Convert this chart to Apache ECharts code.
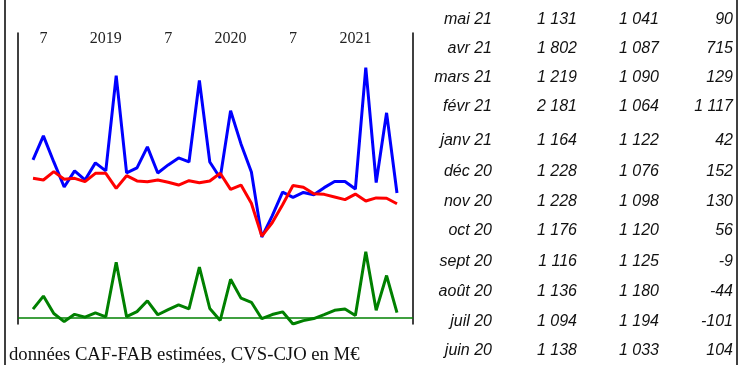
<!DOCTYPE html>
<html>
<head>
<meta charset="utf-8">
<script src="https://cdn.jsdelivr.net/npm/echarts@6/dist/echarts.min.js"></script>
<style>
  html, body { margin: 0; padding: 0; background: #fff; }
  #chart { width: 741px; height: 365px; }
</style>
</head>
<body>
<div id="chart"></div>
<script>
// Monthly series, June 2018 to May 2021 (M€, CVS-CJO)
const months = [
  '2018-06','2018-07','2018-08','2018-09','2018-10','2018-11','2018-12',
  '2019-01','2019-02','2019-03','2019-04','2019-05','2019-06','2019-07','2019-08','2019-09','2019-10','2019-11','2019-12',
  '2020-01','2020-02','2020-03','2020-04','2020-05','2020-06','2020-07','2020-08','2020-09','2020-10','2020-11','2020-12',
  '2021-01','2021-02','2021-03','2021-04','2021-05'
];
const exportsM = [
  1408, 1609, 1391, 1181, 1316, 1240, 1383,
  1316, 2113, 1299, 1341, 1517, 1299, 1366, 1425, 1391, 2073, 1391, 1257,
  1819, 1542, 1307, 762, 940, 1138, 1094, 1136, 1116, 1176, 1228, 1228,
  1164, 2181, 1219, 1802, 1131
];
const importsM = [
  1254, 1240, 1310, 1246, 1254, 1226, 1296,
  1296, 1170, 1276, 1232, 1226, 1240, 1221, 1198, 1234, 1217, 1232, 1296,
  1162, 1198, 1045, 770, 882, 1033, 1194, 1180, 1125, 1120, 1098, 1076,
  1122, 1064, 1090, 1087, 1041
];
const balanceM = [
  150, 369, 75, -60, 62, 14, 85,
  20, 940, 22, 108, 290, 55, 140, 222, 152, 855, 160, -42,
  652, 335, 265, -12, 58, 104, -101, -44, -9, 56, 130, 152,
  42, 1117, 129, 715, 90
];

// Axis tick labels along the top
const tickMonths = ['2018-07', '2019-01', '2019-07', '2020-01', '2020-07', '2021-01'];
const tickLabels = ['7', '2019', '7', '2020', '7', '2021'];

// French month abbreviations for the table
const monthNames = ['janv', 'févr', 'mars', 'avr', 'mai', 'juin', 'juil', 'août', 'sept', 'oct', 'nov', 'déc'];
const tableMonths = 12;

const footnote = 'données CAF-FAB estimées, CVS-CJO en M€';

// ---- helpers ----
function fmt(v) {
  const s = String(Math.abs(v)).replace(/\B(?=(\d{3})+(?!\d))/g, ' ');
  return (v < 0 ? '-' : '') + s;
}
function monthLabel(m) {
  const [y, mm] = m.split('-');
  return monthNames[parseInt(mm, 10) - 1] + ' ' + y.slice(2);
}
const pairs = arr => arr.map((v, i) => [i, v]);
const tickIdx = tickMonths.map(m => months.indexOf(m));

// ---- table on the right (latest month on top) ----
const rowY = [20, 49, 78, 107, 141, 172, 202, 231, 262, 292, 322, 351];
const colRight = [492, 577, 659, 733];
const tableFont = 'italic 16px "Liberation Sans", Arial, sans-serif';
const tableItems = [];
for (let r = 0; r < tableMonths; r++) {
  const i = months.length - 1 - r;
  const cells = [monthLabel(months[i]), fmt(exportsM[i]), fmt(importsM[i]), fmt(balanceM[i])];
  cells.forEach((txt, c) => {
    tableItems.push({
      type: 'text',
      x: colRight[c], y: rowY[r],
      style: {
        text: txt, font: tableFont, fill: '#111',
        align: 'right', verticalAlign: 'middle'
      }
    });
  });
}

const chart = echarts.init(document.getElementById('chart'), null, { renderer: 'canvas' });
chart.setOption({
  animation: false,
  backgroundColor: '#fff',
  grid: { left: 18, right: 328, top: 33, bottom: 41 },
  xAxis: {
    type: 'value',
    position: 'top',
    min: -1.442, max: 36.54,
    axisLine: { show: false, onZero: false },
    axisTick: { show: false },
    splitLine: { show: false },
    axisLabel: {
      inside: true,
      margin: -2,
      customValues: tickIdx,
      formatter: v => tickLabels[tickIdx.indexOf(v)] ?? '',
      fontFamily: '"Liberation Serif", "Times New Roman", serif',
      fontSize: 16,
      color: '#222',
      verticalAlign: 'top'
    }
  },
  yAxis: [
    {
      type: 'value', min: 35, max: 2470, position: 'left',
      axisLine: { show: true, onZero: false, lineStyle: { color: '#000', width: 1.5 } },
      axisTick: { show: false }, axisLabel: { show: false }, splitLine: { show: false }
    },
    {
      type: 'value', min: -101, max: 4800, position: 'right',
      axisLine: { show: true, onZero: false, lineStyle: { color: '#000', width: 1.5 } },
      axisTick: { show: false }, axisLabel: { show: false }, splitLine: { show: false }
    }
  ],
  series: [
    {
      name: 'Exportations', type: 'line', yAxisIndex: 0, data: pairs(exportsM),
      showSymbol: false, lineStyle: { color: '#0000ff', width: 3 }, z: 2
    },
    {
      name: 'Importations', type: 'line', yAxisIndex: 0, data: pairs(importsM),
      showSymbol: false, lineStyle: { color: '#ff0000', width: 3 }, z: 3
    },
    {
      name: 'Solde', type: 'line', yAxisIndex: 1, data: pairs(balanceM),
      showSymbol: false, lineStyle: { color: '#008000', width: 3 }, z: 2,
      markLine: {
        silent: true, symbol: 'none', label: { show: false },
        lineStyle: { color: '#008000', width: 1.5, type: 'solid' },
        data: [{ yAxis: 0 }]
      }
    }
  ],
  graphic: [
    { type: 'line', shape: { x1: 5, y1: 0, x2: 5, y2: 365 }, style: { stroke: '#000', lineWidth: 1.5 } },
    { type: 'line', shape: { x1: 737, y1: 0, x2: 737, y2: 365 }, style: { stroke: '#000', lineWidth: 1.5 } },
    {
      type: 'text', x: 9, y: 355,
      style: {
        text: footnote,
        font: '18.7px "Liberation Serif", "Times New Roman", serif',
        fill: '#111', align: 'left', verticalAlign: 'middle'
      }
    }
  ].concat(tableItems)
});
</script>
</body>
</html>
